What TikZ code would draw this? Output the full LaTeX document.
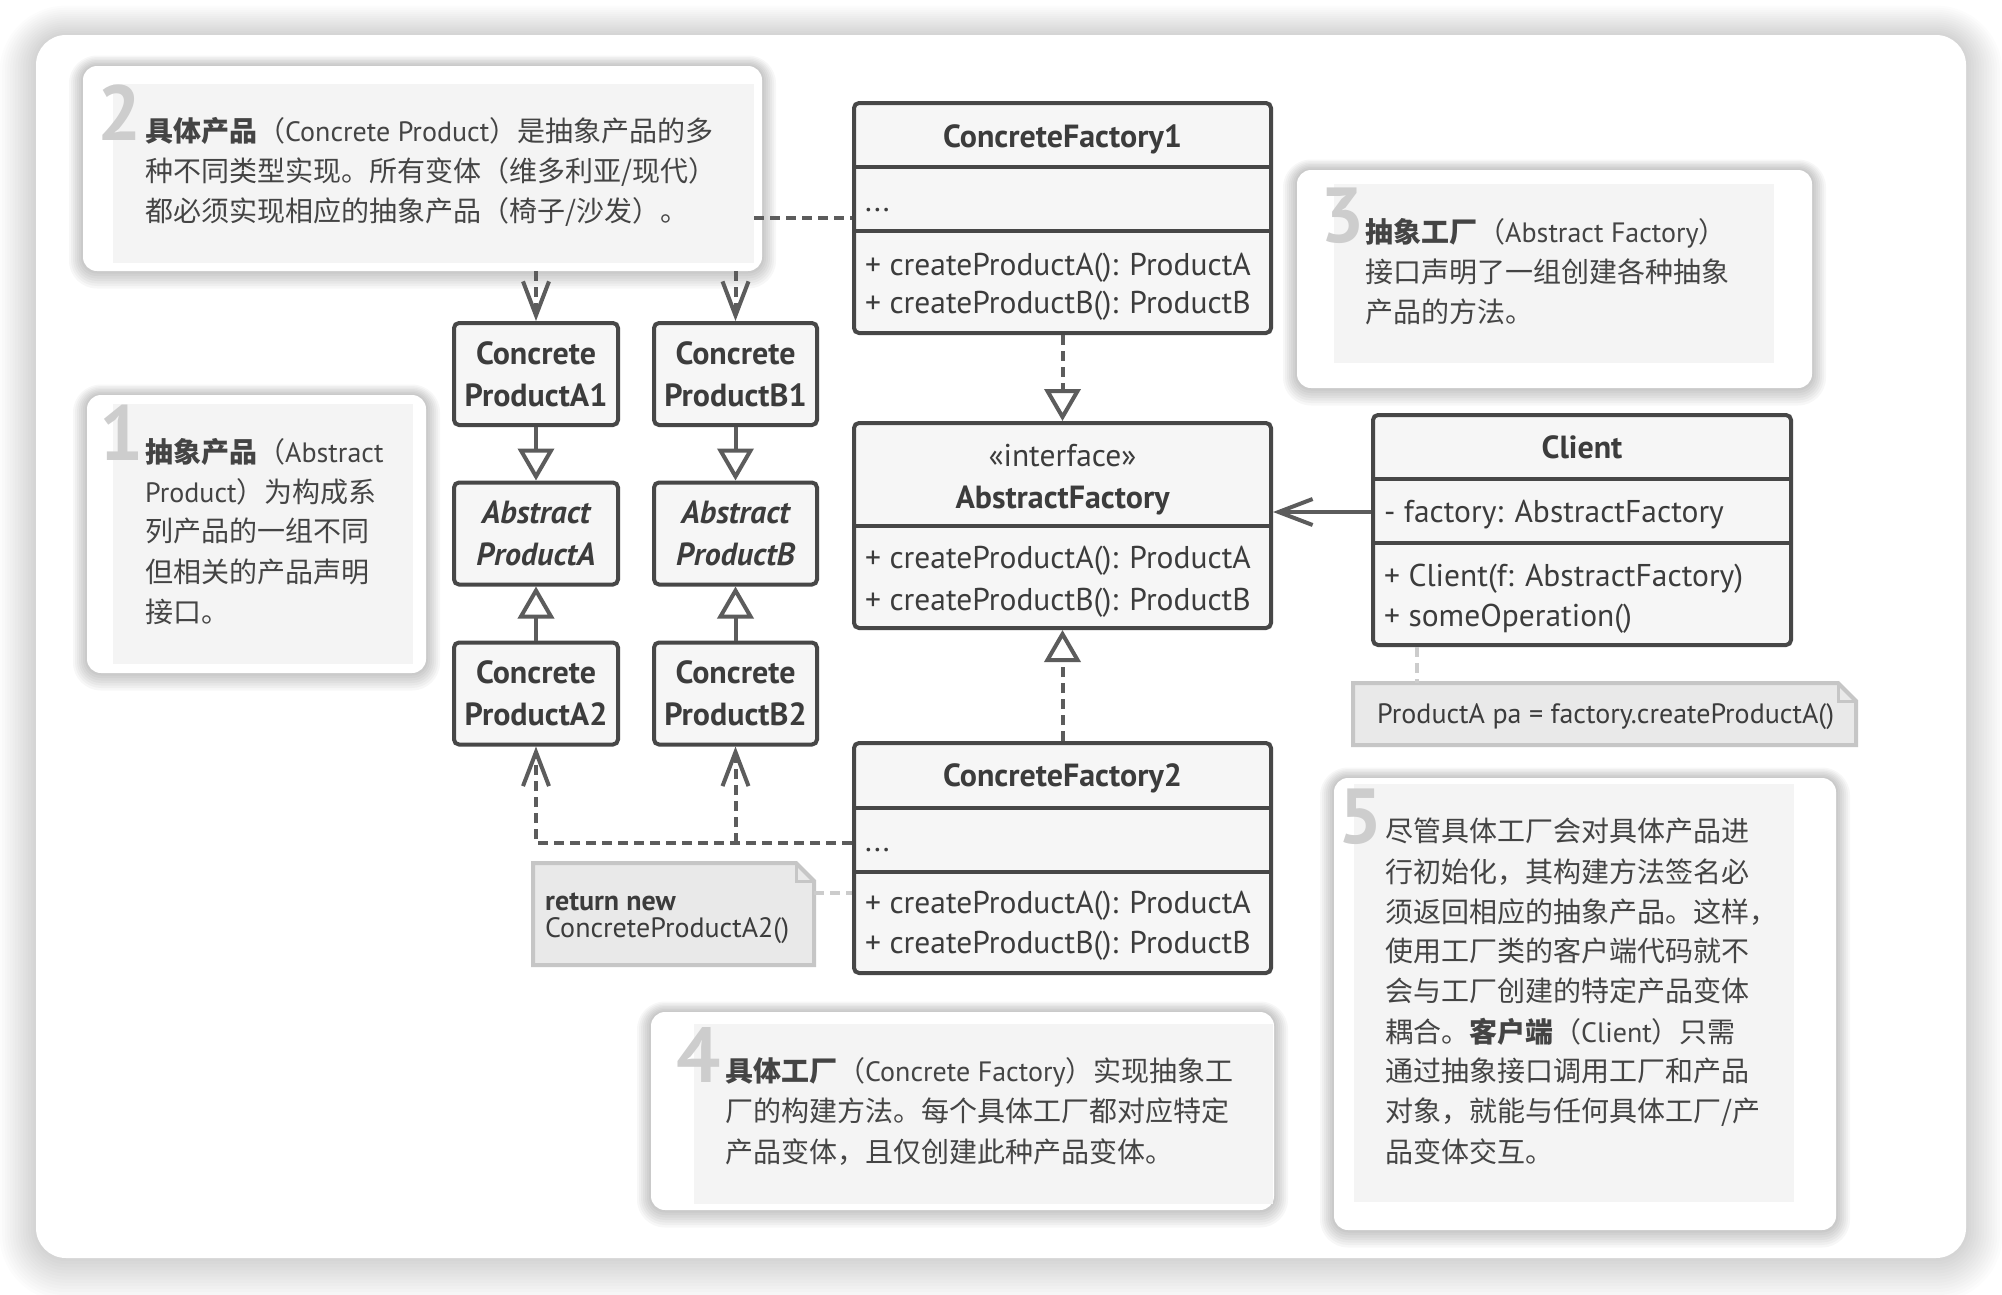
\documentclass[tikz,border=0pt]{standalone}
\usepackage{fontspec}
\setmainfont{PT Sans}
\newfontfamily\cjk{Noto Sans CJK SC}
\usetikzlibrary{arrows.meta}
\definecolor{ink}{HTML}{444444}
\definecolor{umlink}{HTML}{3C3C3C}
\definecolor{umlline}{HTML}{474747}
\definecolor{umlfill}{HTML}{F6F6F6}
\definecolor{notegray}{HTML}{F4F4F4}
\definecolor{numgray}{HTML}{CDCDCD}
\definecolor{arrowc}{HTML}{5C5C5C}
\definecolor{memofill}{HTML}{E9E9E9}
\definecolor{memoline}{HTML}{C6C6C6}
\definecolor{lightdash}{HTML}{CCCCCC}
\newcommand\softshadow[8]{%
  \foreach \k in {1,...,#6}{%
    \pgfmathsetmacro\dd{\k*#7}%
    \pgfmathsetmacro\rr{#5+\dd}%
    \fill[black, fill opacity=#8, rounded corners=\rr pt] (#1-\dd,#2-\dd+\k*0.5) rectangle (#3+\dd,#4+\dd+\k*0.5);
  }}
\begin{document}
\begin{tikzpicture}[x=1pt,y=-1pt,
  card/.style={fill=white, rounded corners=14pt, inner sep=0pt},
  graybox/.style={fill=notegray, inner sep=0pt},
  num/.style={anchor=base west, inner sep=0pt, text=numgray, font=\fontsize{78}{78}\selectfont\bfseries},
  ln/.style={anchor=base west, inner sep=0pt, text=ink, font=\fontsize{28}{32}\selectfont},
  umlbox/.style={draw=umlline, line width=4pt, fill=umlfill, rounded corners=5pt, inner sep=0pt},
  divider/.style={draw=umlline, line width=4pt},
  hdr/.style={anchor=base, inner sep=0pt, text=umlink, font=\fontsize{32}{34}\selectfont\bfseries},
  body/.style={anchor=base west, inner sep=0pt, text=umlink, font=\fontsize{31.5}{34}\selectfont},
  prod/.style={umlbox, text=umlink, align=center, font=\fontsize{32}{42}\selectfont\bfseries, minimum height=102pt},
  memo/.style={fill=memofill, draw=memoline, line width=4pt},
  memotext/.style={anchor=base west, inner sep=0pt, text=umlink, font=\fontsize{28}{30}\selectfont},
  solidline/.style={draw=arrowc, line width=4pt},
  dashdark/.style={draw=arrowc, line width=4pt, dash pattern=on 10pt off 6pt},
  dashlight/.style={draw=lightdash, line width=4pt, dash pattern=on 10pt off 6pt},
  barb/.style={-{Straight Barb[length=34pt, width=26pt]}},
  tri/.style={-{Triangle[fill=white, length=32pt, width=36pt]}}
]
\useasboundingbox (0,0) rectangle (2002,1294);
\fill[white] (0,0) rectangle (2002,1294);
% outer frame
\softshadow{36}{35}{1966}{1258}{30}{14}{2.6}{0.013}
\fill[white, rounded corners=30pt] (36,35) rectangle (1966,1258);

% ---------- note cards ----------
\softshadow{83}{66}{762}{271}{14}{7}{2}{0.03}
\node[card, minimum width=679pt, minimum height=205pt] (n2card) at (422.5,168.5) {};
\node[graybox, minimum width=641pt, minimum height=179pt] (n2) at (433.5,173.5) {};
\node[num] (num2) at (97,140) {2};
\node[ln] (n2l1) at (145,141) {{\cjk\bfseries 具体产品}{\cjk （}Concrete Product{\cjk ）是抽象产品的多}};
\node[ln] (n2l2) at (145,181) {\cjk 种不同类型实现。所有变体（维多利亚/现代）};
\node[ln] (n2l3) at (145,221) {\cjk 都必须实现相应的抽象产品（椅子/沙发）。};

\softshadow{87}{395}{426}{673}{14}{7}{2}{0.03}
\node[card, minimum width=339pt, minimum height=278pt] (n1card) at (256.5,534) {};
\node[graybox, minimum width=300pt, minimum height=260pt] (n1) at (263,534) {};
\node[num] (num1) at (99,460) {1};
\node[ln] (n1l1) at (145,462) {{\cjk\bfseries 抽象产品}{\cjk （}Abstract};
\node[ln] (n1l2) at (145,502) {Product{\cjk ）为构成系}};
\node[ln] (n1l3) at (145,541) {\cjk 列产品的一组不同};
\node[ln] (n1l4) at (145,582) {\cjk 但相关的产品声明};
\node[ln] (n1l5) at (145,622) {\cjk 接口。};

\softshadow{1297}{170}{1812}{388}{14}{7}{2}{0.03}
\node[card, minimum width=515pt, minimum height=218pt] (n3card) at (1554.5,279) {};
\node[graybox, minimum width=440pt, minimum height=179pt] (n3) at (1554,273.5) {};
\node[num] (num3) at (1320,242) {3};
\node[ln] (n3l1) at (1365,242) {{\cjk\bfseries 抽象工厂}{\cjk （}Abstract Factory{\cjk ）}};
\node[ln] (n3l2) at (1365,282) {\cjk 接口声明了一组创建各种抽象};
\node[ln] (n3l3) at (1365,322) {\cjk 产品的方法。};

\softshadow{651}{1012}{1274}{1210}{14}{7}{2}{0.03}
\node[card, minimum width=623pt, minimum height=198pt] (n4card) at (962.5,1111) {};
\node[graybox, minimum width=579pt, minimum height=180pt] (n4) at (983.5,1114) {};
\node[num] (num4) at (676,1082) {4};
\node[ln] (n4l1) at (725,1081) {{\cjk\bfseries 具体工厂}{\cjk （}Concrete Factory{\cjk ）实现抽象工}};
\node[ln] (n4l2) at (725,1121) {\cjk 厂的构建方法。每个具体工厂都对应特定};
\node[ln] (n4l3) at (725,1162) {\cjk 产品变体，且仅创建此种产品变体。};

\softshadow{1334}{778}{1836}{1230}{14}{7}{2}{0.03}
\node[card, minimum width=502pt, minimum height=452pt] (n5card) at (1585,1004) {};
\node[graybox, minimum width=440pt, minimum height=418pt] (n5) at (1574,993) {};
\node[num] (num5) at (1338,843) {5};
\node[ln] (n5l1) at (1385,841) {\cjk 尽管具体工厂会对具体产品进};
\node[ln] (n5l2) at (1385,882) {\cjk 行初始化，其构建方法签名必};
\node[ln] (n5l3) at (1385,922) {\cjk 须返回相应的抽象产品。这样，};
\node[ln] (n5l4) at (1385,961) {\cjk 使用工厂类的客户端代码就不};
\node[ln] (n5l5) at (1385,1001) {\cjk 会与工厂创建的特定产品变体};
\node[ln] (n5l6) at (1385,1042) {{\cjk 耦合。}{\cjk\bfseries 客户端}{\cjk （}Client{\cjk ）只需}};
\node[ln] (n5l7) at (1385,1081) {\cjk 通过抽象接口调用工厂和产品};
\node[ln] (n5l8) at (1385,1121) {\cjk 对象，就能与任何具体工厂/产};
\node[ln] (n5l9) at (1385,1162) {\cjk 品变体交互。};

% ---------- UML classes ----------
\node[umlbox, minimum width=417pt, minimum height=230pt] (cf1) at (1062.5,218) {};
\draw[divider] (cf1.west |- 0,167) -- (cf1.east |- 0,167);
\draw[divider] (cf1.west |- 0,231) -- (cf1.east |- 0,231);
\node[hdr] (cf1t) at (1062.5,147) {ConcreteFactory1};
\node[body] (cf1f) at (865,211) {...};
\node[body] (cf1m1) at (865,275) {+ createProductA(): ProductA};
\node[body] (cf1m2) at (865,313) {+ createProductB(): ProductB};

\node[umlbox, minimum width=417pt, minimum height=205pt] (af) at (1062.5,525.5) {};
\draw[divider] (af.west |- 0,526) -- (af.east |- 0,526);
\node[anchor=base, inner sep=0pt, text=umlink, font=\fontsize{31.5}{34}\selectfont] (afs) at (1062.5,466) {«interface»};
\node[hdr] (aft) at (1062.5,508) {AbstractFactory};
\node[body] (afm1) at (865,568) {+ createProductA(): ProductA};
\node[body] (afm2) at (865,610) {+ createProductB(): ProductB};

\node[umlbox, minimum width=417pt, minimum height=230pt] (cf2) at (1062.5,858) {};
\draw[divider] (cf2.west |- 0,808) -- (cf2.east |- 0,808);
\draw[divider] (cf2.west |- 0,872) -- (cf2.east |- 0,872);
\node[hdr] (cf2t) at (1062.5,786) {ConcreteFactory2};
\node[body] (cf2f) at (865,851) {...};
\node[body] (cf2m1) at (865,913) {+ createProductA(): ProductA};
\node[body] (cf2m2) at (865,953) {+ createProductB(): ProductB};

\node[umlbox, minimum width=418pt, minimum height=230pt] (client) at (1582,530) {};
\draw[divider] (client.west |- 0,479) -- (client.east |- 0,479);
\draw[divider] (client.west |- 0,543) -- (client.east |- 0,543);
\node[hdr] (clt) at (1582,458) {Client};
\node[body] (clf) at (1384,522) {- factory: AbstractFactory};
\node[body] (clm1) at (1384,586) {+ Client(f: AbstractFactory)};
\node[body] (clm2) at (1384,626) {+ someOperation()};

% ---------- products ----------
\node[prod, minimum width=164pt] (cpa1) at (536,374) {Concrete\\ProductA1};
\node[prod, minimum width=163pt] (cpb1) at (735.5,374) {Concrete\\ProductB1};
\node[prod, minimum width=164pt, font=\fontsize{32}{42}\selectfont\bfseries\itshape] (apa) at (536,533.5) {Abstract\\ProductA};
\node[prod, minimum width=163pt, font=\fontsize{32}{42}\selectfont\bfseries\itshape] (apb) at (735.5,533.5) {Abstract\\ProductB};
\node[prod, minimum width=164pt] (cpa2) at (536,693.5) {Concrete\\ProductA2};
\node[prod, minimum width=163pt] (cpb2) at (735.5,693.5) {Concrete\\ProductB2};

% ---------- memo notes ----------
\fill[memofill] (533,863) -- (796,863) -- (814,881) -- (814,965) -- (533,965) -- cycle;
\draw[memoline, line width=4pt, line join=miter] (533,863) -- (796,863) -- (814,881) -- (814,965) -- (533,965) -- cycle;
\draw[memoline, line width=3pt] (796,863) -- (796,881) -- (814,881);
\node[inner sep=0pt, minimum width=281pt, minimum height=102pt] (noter) at (673.5,914) {};
\node[memotext, font=\fontsize{28}{30}\selectfont\bfseries] (nrt1) at (545,910) {return new};
\node[memotext] (nrt2) at (545,937) {ConcreteProductA2()};

\fill[memofill] (1353,683) -- (1838,683) -- (1856,701) -- (1856,745) -- (1353,745) -- cycle;
\draw[memoline, line width=4pt, line join=miter] (1353,683) -- (1838,683) -- (1856,701) -- (1856,745) -- (1353,745) -- cycle;
\draw[memoline, line width=3pt] (1838,683) -- (1838,701) -- (1856,701);
\node[inner sep=0pt, minimum width=503pt, minimum height=62pt] (notep) at (1604.5,714) {};
\node[memotext] (npt) at (1377,723) {ProductA pa = factory.createProductA()};

% ---------- connectors ----------
\draw[dashdark, barb] (cpa1.north |- n2card.south) -- (cpa1.north);
\draw[dashdark, barb] (cpb1.north |- n2card.south) -- (cpb1.north);
\draw[dashdark] (n2.east |- 0,218) -- (cf1.west |- 0,218);

\draw[solidline, tri] (cpa1.south) -- (apa.north);
\draw[solidline, tri] (cpb1.south) -- (apb.north);
\draw[solidline, tri] (cpa2.north) -- (apa.south);
\draw[solidline, tri] (cpb2.north) -- (apb.south);

\draw[dashdark, tri] (cf1.south) -- (af.north);
\draw[dashdark, tri] (cf2.north) -- (af.south);
\draw[solidline, barb] (client.west |- 0,512) -- (af.east |- 0,512);

\draw[dashdark, barb] (cf2.west |- 0,843) -- (cpa2.south |- 0,843) -- (cpa2.south);
\draw[dashdark, barb] (cpb2.south |- 0,843) -- (cpb2.south);

\draw[dashlight] (noter.east |- 0,893) -- (cf2.west |- 0,893);
\draw[dashlight] (client.south -| 1417,0) -- (notep.north -| 1417,0);
\end{tikzpicture}
\end{document}
